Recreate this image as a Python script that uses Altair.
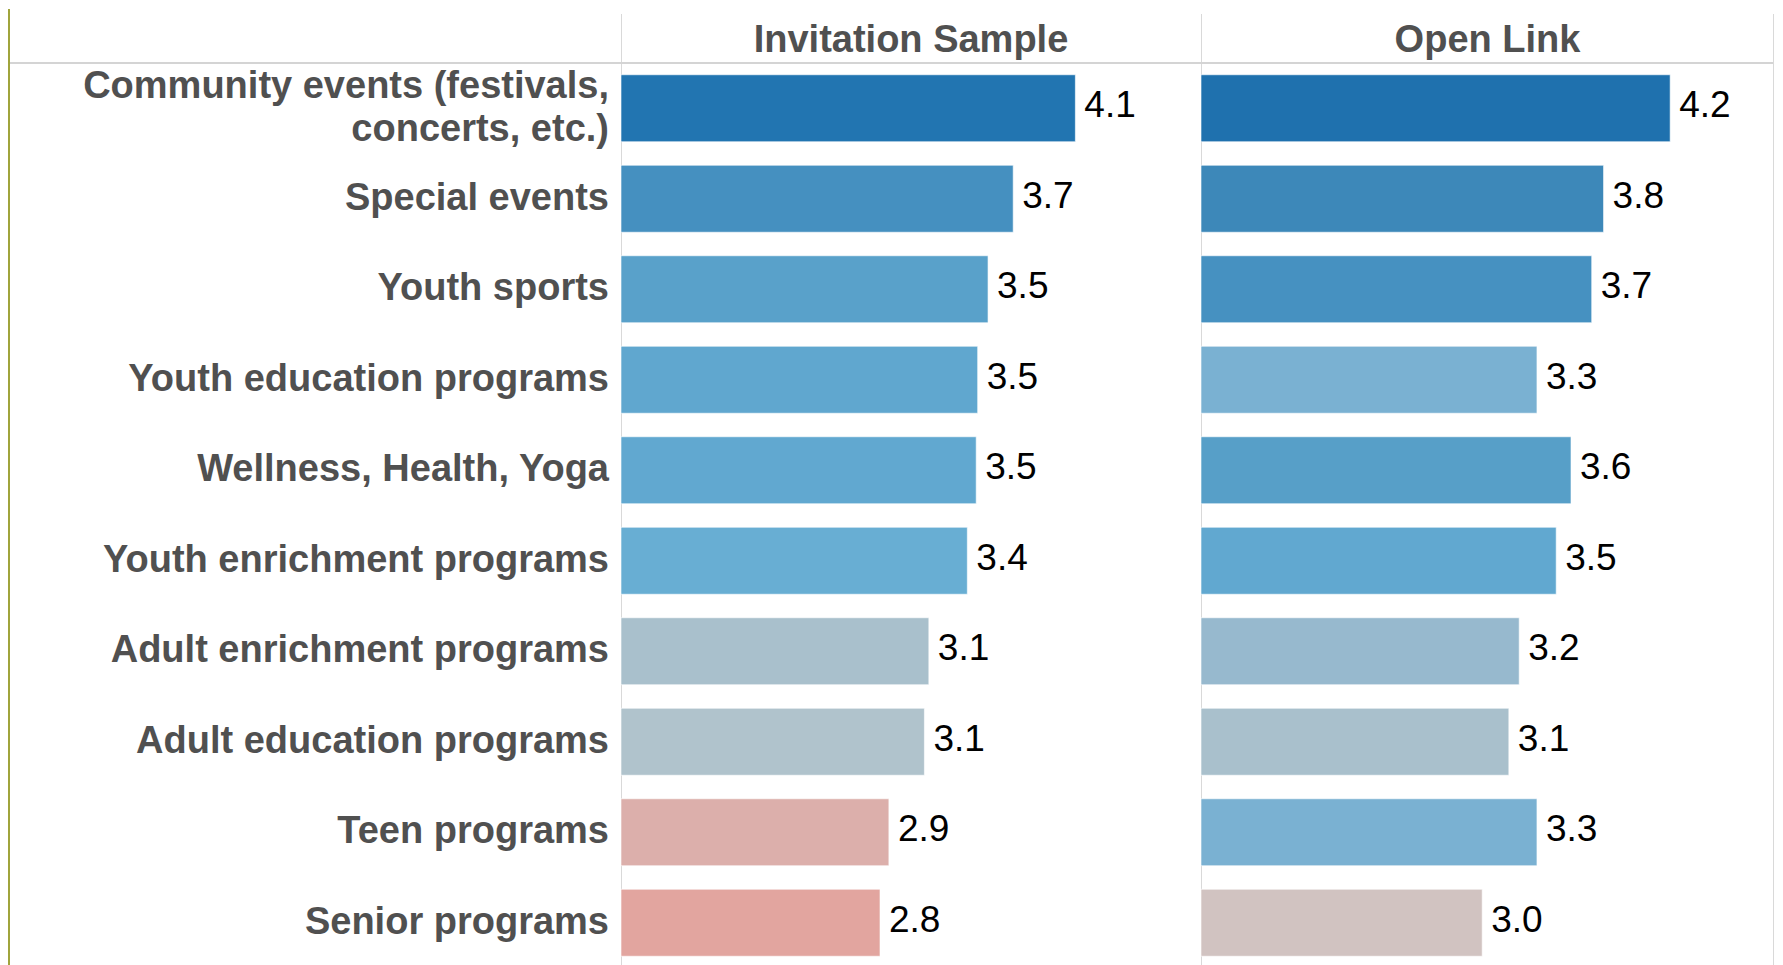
import altair as alt
import pandas as pd

categories = [
    "Community events (festivals,\nconcerts, etc.)",
    "Special events",
    "Youth sports",
    "Youth education programs",
    "Wellness, Health, Yoga",
    "Youth enrichment programs",
    "Adult enrichment programs",
    "Adult education programs",
    "Teen programs",
    "Senior programs",
]
invitation_values = [4.13, 3.71, 3.54, 3.47, 3.46, 3.40, 3.14, 3.11, 2.87, 2.81]
open_link_values = [4.23, 3.78, 3.70, 3.33, 3.56, 3.46, 3.21, 3.14, 3.33, 2.96]
panel_titles = ["Invitation Sample", "Open Link"]

color_stops = [2.81, 2.87, 2.96, 3.11, 3.14, 3.21, 3.33, 3.40, 3.47, 3.55, 3.71, 3.78, 4.13, 4.23]
color_range = ["#e2a59f", "#dcafab", "#d1c3c1", "#b0c3cc", "#a9c0cc", "#97b9ce", "#7ab1d2",
               "#68aed3", "#60a7cf", "#58a0c9", "#4590c0", "#3d88b9", "#2275b1", "#1f71ae"]

ROW_H = 905
LW, W1, W2 = 613, 580, 573
X_MIN = 1.06
PX_PER_UNIT = 148.0
FONT = "Liberation Sans"
GREY = "#505050"
LINE = "#d9d9d9"
OLIVE = "#a0a43c"
TOP = -54

yscale = alt.Scale(domain=categories, paddingInner=0.26, paddingOuter=0.13)
one = pd.DataFrame({"k": [0]})
y_enc = alt.Y("category:N", scale=yscale, axis=None)


def panel(values, title, width, right_edge):
    df = pd.DataFrame({"category": categories, "value": values})
    xs = alt.Scale(domain=[X_MIN, X_MIN + width / PX_PER_UNIT], zero=False, nice=False)
    base = alt.Chart(df)
    x = alt.X("value:Q", scale=xs, axis=None)
    bars = base.mark_bar(stroke="white", strokeWidth=1, strokeOpacity=0.6).encode(
        y=y_enc, x=x, x2=alt.datum(X_MIN),
        color=alt.Color("value:Q", scale=alt.Scale(domain=color_stops, range=color_range), legend=None),
    )
    vals = base.mark_text(align="left", baseline="middle", dx=9, dy=-2, fontSize=37,
                          font=FONT, color="#000000").encode(
        y=y_enc, x=x, text=alt.Text("value:Q", format=".1f"))
    header = alt.Chart(pd.DataFrame({"t": [title]})).mark_text(
        fontSize=38, fontWeight="bold", font=FONT, color=GREY, baseline="middle", align="center"
    ).encode(text="t:N", x=alt.value(width / 2), y=alt.value(-22))
    vline = alt.Chart(one).mark_rule(color=LINE, strokeWidth=1).encode(
        x=alt.value(0.5), y=alt.value(-49), y2=alt.value(ROW_H))
    hline = alt.Chart(one).mark_rule(color="#d4d4d4", strokeWidth=2).encode(
        x=alt.value(0), x2=alt.value(width), y=alt.value(0))
    layers = [vline, hline, bars, vals, header]
    if right_edge:
        layers.append(alt.Chart(one).mark_rule(color=LINE, strokeWidth=1).encode(
            x=alt.value(width - 0.5), y=alt.value(-49), y2=alt.value(ROW_H)))
    return alt.layer(*layers).properties(width=width, height=ROW_H)


ldf = pd.DataFrame({"category": categories})
is_multi = "indexof(datum.category, '\\n') >= 0"
label_style = dict(align="right", baseline="middle", fontSize=38, fontWeight="bold", font=FONT,
                   color=GREY, lineBreak="\n", lineHeight=43)
label_single = alt.Chart(ldf).transform_filter("!(" + is_multi + ")").mark_text(**label_style).encode(
    y=y_enc, x=alt.value(LW - 12), text="category:N")
label_multi = alt.Chart(ldf).transform_filter(is_multi).mark_text(dy=-21.5, **label_style).encode(
    y=y_enc, x=alt.value(LW - 12), text="category:N")
label_h = alt.Chart(one).mark_rule(color="#d4d4d4", strokeWidth=2).encode(
    x=alt.value(2), x2=alt.value(LW), y=alt.value(0))
olive_l = alt.Chart(one).mark_rule(color=OLIVE, strokeWidth=2).encode(
    x=alt.value(1), y=alt.value(TOP), y2=alt.value(ROW_H))
label_panel = alt.layer(olive_l, label_h, label_single, label_multi).properties(width=LW, height=ROW_H)

chart = alt.hconcat(
    label_panel,
    panel(invitation_values, panel_titles[0], W1, False),
    panel(open_link_values, panel_titles[1], W2, True),
    spacing=0, bounds="flush",
).properties(
    padding={"left": 0, "top": 0, "right": 0, "bottom": 0},
    background="#ffffff",
).configure_view(strokeWidth=0)

chart.save("out.html", embed_options={"renderer": "svg", "actions": False})
